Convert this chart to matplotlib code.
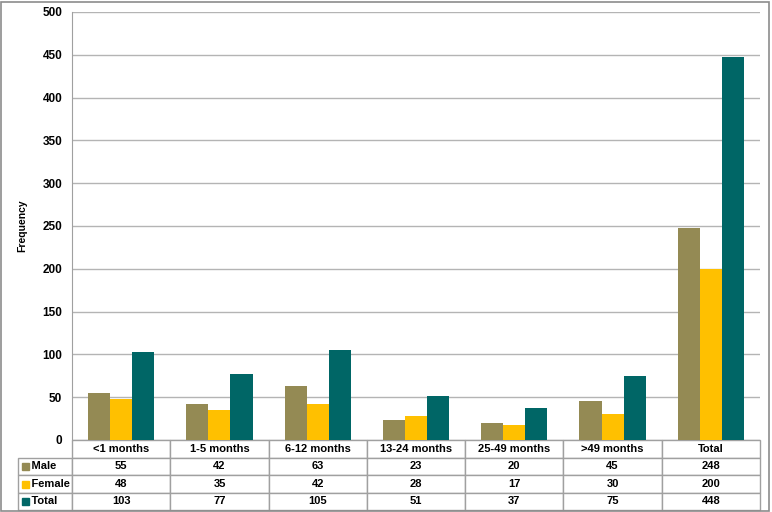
import numpy as np
import matplotlib
matplotlib.use("Agg")
import matplotlib.pyplot as plt
from matplotlib.table import Table
from matplotlib.patches import Rectangle

# data
categories = ["<1 months", "1-5 months", "6-12 months", "13-24 months",
              "25-49 months", ">49 months", "Total"]
male = [55, 42, 63, 23, 20, 45, 248]
female = [48, 35, 42, 28, 17, 30, 200]
total = [103, 77, 105, 51, 37, 75, 448]
series_names = ["Male", "Female", "Total"]
colors = ["#948A54", "#FFC000", "#006666"]

plt.rcParams["font.family"] = ["Liberation Sans", "DejaVu Sans"]
plt.rcParams["font.weight"] = "bold"

W, H = 772, 512
fig = plt.figure(figsize=(W / 100, H / 100), dpi=100)
ax = fig.add_axes([72 / W, (H - 440) / H, (760 - 72) / W, 428 / H])

x = np.arange(len(categories))
bw = 0.225
for k, (vals, c) in enumerate(zip([male, female, total], colors)):
    ax.bar(x + (k - 1) * bw, vals, width=bw, color=c, zorder=3)

ax.set_xlim(-0.5, len(categories) - 0.5)
ax.set_ylim(0, 500)
ax.set_yticks(range(0, 501, 50))
ax.tick_params(axis="y", length=0, labelsize=8.5, pad=7)
ax.tick_params(axis="x", length=0, labelbottom=False)
ax.grid(axis="y", color="#B4B4B4", linewidth=1, zorder=0)
for s in ["top", "right", "bottom"]:
    ax.spines[s].set_visible(False)
ax.spines["left"].set_color("#A0A0A0")
ax.set_ylabel("Frequency", fontsize=7.5, fontweight="bold")
ax.yaxis.set_label_coords((27 - 72) / 688, 0.5)

# data table below the plot
ah = 428.0
aw = 688.0
tbl = Table(ax, bbox=[(18 - 72) / aw, -70 / ah, (760 - 18) / aw, 70 / ah])
rows = [male, female, total]
lab_w = 54 / 742
col_w = 98 / 742
row_h = 1 / 4
for j, cat in enumerate(categories):
    cell = tbl.add_cell(0, j + 1, width=col_w, height=row_h, text=cat, loc="center")
    cell.set_edgecolor("#A0A0A0")
for i, (name, vals) in enumerate(zip(series_names, rows)):
    cell = tbl.add_cell(i + 1, 0, width=lab_w, height=row_h, text="    " + name, loc="left")
    cell.set_edgecolor("#A0A0A0")
    for j, v in enumerate(vals):
        cell = tbl.add_cell(i + 1, j + 1, width=col_w, height=row_h, text=str(v), loc="center")
        cell.set_edgecolor("#A0A0A0")
tbl.auto_set_font_size(False)
tbl.set_fontsize(8)
for cell in tbl.get_celld().values():
    cell.get_text().set_fontweight("bold")
    cell.PAD = 0.02
ax.add_table(tbl)

# legend keys inside row labels
row_centers = [466.5, 484, 501.5]
for yc, c in zip(row_centers, colors):
    fig.patches.append(Rectangle((22 / W, (H - yc - 3.5) / H), 7 / W, 7 / H,
                                 transform=fig.transFigure, color=c, zorder=5))

# outer border
fig.patches.append(Rectangle((1 / W, 1 / H), (W - 4) / W, (H - 3) / H,
                             transform=fig.transFigure, fill=False,
                             edgecolor="#8C8C8C", linewidth=1.2))

fig.savefig("out.png", dpi=100)
